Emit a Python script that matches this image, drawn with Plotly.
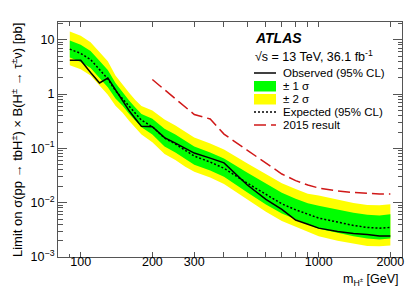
import plotly.graph_objects as go

# ---- data ----
mass = [90, 100, 110, 120, 130, 140, 150, 160, 170, 180, 200, 225, 250, 275, 300,
        350, 400, 500, 600, 700, 800, 900, 1000, 1200, 1400, 1600, 1800, 2000]
observed = [4.2, 4.2, 2.5, 1.6, 1.97, 1.21, 0.73, 0.49, 0.347, 0.254, 0.25, 0.158, 0.125, 0.099, 0.082,
            0.066, 0.054, 0.0214, 0.0115, 0.0075, 0.0048, 0.0040, 0.0034, 0.00295, 0.0027, 0.0026, 0.00243, 0.00243]
expected = [6.7, 5.6, 4.3, 2.8, 1.9, 1.15, 0.82, 0.58, 0.43, 0.33, 0.25, 0.155, 0.12, 0.091, 0.072,
            0.056, 0.043, 0.023, 0.0141, 0.0095, 0.0074, 0.0061, 0.0052, 0.0044, 0.0038, 0.0035, 0.0034, 0.0035]
plus2 = [14.1, 11.8, 9.0, 5.9, 4.0, 2.2, 1.48, 1.04, 0.77, 0.60, 0.50, 0.34, 0.264, 0.20, 0.158,
         0.123, 0.095, 0.053, 0.034, 0.0228, 0.0178, 0.0146, 0.0135, 0.0114, 0.0099, 0.0091, 0.0090, 0.0094]
plus1 = [9.7, 8.1, 6.2, 4.1, 2.76, 1.6, 1.07, 0.75, 0.56, 0.43, 0.35, 0.23, 0.18, 0.137, 0.108,
         0.084, 0.065, 0.036, 0.0226, 0.0152, 0.0118, 0.0098, 0.0088, 0.0075, 0.0065, 0.0060, 0.0058, 0.0061]
minus1 = [4.7, 3.9, 3.0, 1.96, 1.33, 0.83, 0.61, 0.43, 0.32, 0.245, 0.18, 0.108, 0.084, 0.064, 0.050,
          0.039, 0.030, 0.0156, 0.0093, 0.0063, 0.0049, 0.0040, 0.0033, 0.0028, 0.0024, 0.0022, 0.0021, 0.0022]
minus2 = [3.4, 2.86, 2.19, 1.43, 0.97, 0.61, 0.45, 0.32, 0.237, 0.18, 0.13, 0.079, 0.061, 0.046, 0.037,
          0.029, 0.022, 0.0113, 0.0068, 0.0046, 0.0036, 0.0029, 0.0024, 0.0020, 0.00175, 0.0016, 0.00157, 0.00163]
mass2015 = [200, 250, 300, 350, 400, 500, 600, 700, 800, 900, 1000, 1200, 1400, 1600, 1800, 2000]
limit2015 = [1.85, 0.80, 0.42, 0.347, 0.183, 0.093, 0.054, 0.0337, 0.0255, 0.0211, 0.0186, 0.0164,
             0.0154, 0.0147, 0.0144, 0.0144]

x_tickvals = [100, 200, 300, 400, 500, 600, 700, 800, 900, 1000, 2000]
x_ticktext = ["100", "200", "300", "", "", "", "", "", "", "1000", "2000"]
y_tickvals = [1e-3, 1e-2, 1e-1, 1, 10]
y_ticktext = ["10<sup>\u22123</sup>", "10<sup>\u22122</sup>", "10<sup>\u22121</sup>", "1", "10"]

GREEN = "#00ff00"
YELLOW = "#ffff00"
RED = "#d01818"
FONT = "Liberation Sans"

fig = go.Figure()
fig.add_trace(go.Scatter(x=mass, y=minus2, mode="lines", line=dict(width=0), showlegend=False, hoverinfo="skip"))
fig.add_trace(go.Scatter(x=mass, y=plus2, mode="lines", line=dict(width=0), fill="tonexty",
                         fillcolor=YELLOW, showlegend=False))
fig.add_trace(go.Scatter(x=mass, y=minus1, mode="lines", line=dict(width=0), showlegend=False, hoverinfo="skip"))
fig.add_trace(go.Scatter(x=mass, y=plus1, mode="lines", line=dict(width=0), fill="tonexty",
                         fillcolor=GREEN, showlegend=False))
fig.add_trace(go.Scatter(x=mass2015, y=limit2015, mode="lines",
                         line=dict(color=RED, width=1.5, dash="12px,5px"), showlegend=False))
fig.add_trace(go.Scatter(x=mass, y=expected, mode="lines",
                         line=dict(color="black", width=1.5, dash="2px,2px"), showlegend=False))
fig.add_trace(go.Scatter(x=mass, y=observed, mode="lines",
                         line=dict(color="black", width=1.5), showlegend=False))

W, H = 415, 298
L, R, T, B = 50, 394, 14, 249


def px(x):
    return (x - L) / (R - L)


def py(y):
    return (B - y) / (B - T)


axis_common = dict(showline=True, linecolor="#555555", linewidth=1, mirror="allticks",
                   ticks="inside", tickcolor="#555555", showgrid=False, zeroline=False,
                   tickfont=dict(family=FONT, size=12.5, color="black"))

minor_y = []
for e in [1e-3, 1e-2, 1e-1, 1]:
    for k in range(2, 10):
        minor_y.append(k * e)
minor_y.append(20)

fig.update_layout(
    width=W, height=H,
    margin=dict(l=L, r=W - R, t=T, b=H - B),
    paper_bgcolor="white", plot_bgcolor="white",
    font=dict(family=FONT, color="black"),
    xaxis=dict(type="log", range=[1.9046, 3.35], tickvals=x_tickvals, ticktext=x_ticktext,
               ticklen=5, ticklabelstandoff=-7,
               minor=dict(tickvals=[90], ticklen=3.5, ticks="inside", tickcolor="#555555"),
               **axis_common),
    yaxis=dict(type="log", range=[-3, 1.326], tickvals=y_tickvals, ticktext=y_ticktext,
               ticklen=9, minor=dict(tickvals=minor_y, ticklen=4.5, ticks="inside", tickcolor="#555555"),
               **axis_common),
)

annotations = [
    dict(text="Limit on \u03c3(pp \u2192 tbH<sup>\u00b1</sup>) \u00d7 B(H<sup>\u00b1</sup> \u2192 \u03c4<sup>\u00b1</sup>\u03bd) [pb]",
         xref="paper", yref="paper", x=px(9), y=py(13), xanchor="center", yanchor="top",
         textangle=-90, showarrow=False, font=dict(family=FONT, size=13)),
    dict(text="m<sub>H<sup>\u00b1</sup></sub> [GeV]", xref="paper", yref="paper",
         x=px(393), y=py(272), xanchor="right", yanchor="middle", showarrow=False,
         font=dict(family=FONT, size=12.5)),
    dict(text="<b><i>ATLAS</i></b>", xref="paper", yref="paper", x=px(245), y=py(30),
         xanchor="left", yanchor="middle", showarrow=False, font=dict(family=FONT, size=14)),
    dict(text="\u221as = 13 TeV, 36.1 fb<sup>-1</sup>", xref="paper", yref="paper", x=px(245), y=py(48),
         xanchor="left", yanchor="middle", showarrow=False, font=dict(family=FONT, size=12.5)),
]
leg_labels = ["Observed (95% CL)", "\u00b1 1 \u03c3", "\u00b1 2 \u03c3", "Expected (95% CL)", "2015 result"]
leg_y = [65, 78, 91, 104, 117]
for lab, yy in zip(leg_labels, leg_y):
    annotations.append(dict(text=lab, xref="paper", yref="paper", x=px(273), y=py(yy),
                            xanchor="left", yanchor="middle", showarrow=False,
                            font=dict(family=FONT, size=11.5)))
fig.update_layout(annotations=annotations)

shapes = [
    dict(type="line", xref="paper", yref="paper", x0=px(246), x1=px(268), y0=py(65), y1=py(65),
         line=dict(color="black", width=1.5)),
    dict(type="rect", xref="paper", yref="paper", x0=px(246), x1=px(268), y0=py(83.5), y1=py(73),
         fillcolor=GREEN, line=dict(width=0)),
    dict(type="rect", xref="paper", yref="paper", x0=px(246), x1=px(268), y0=py(96.5), y1=py(86),
         fillcolor=YELLOW, line=dict(width=0)),
    dict(type="line", xref="paper", yref="paper", x0=px(246), x1=px(268), y0=py(104), y1=py(104),
         line=dict(color="black", width=1.5, dash="2px,2px")),
    dict(type="line", xref="paper", yref="paper", x0=px(246), x1=px(268), y0=py(117), y1=py(117),
         line=dict(color=RED, width=1.5, dash="12px,5px")),
]
fig.update_layout(shapes=shapes)

fig.write_html("out.html")
